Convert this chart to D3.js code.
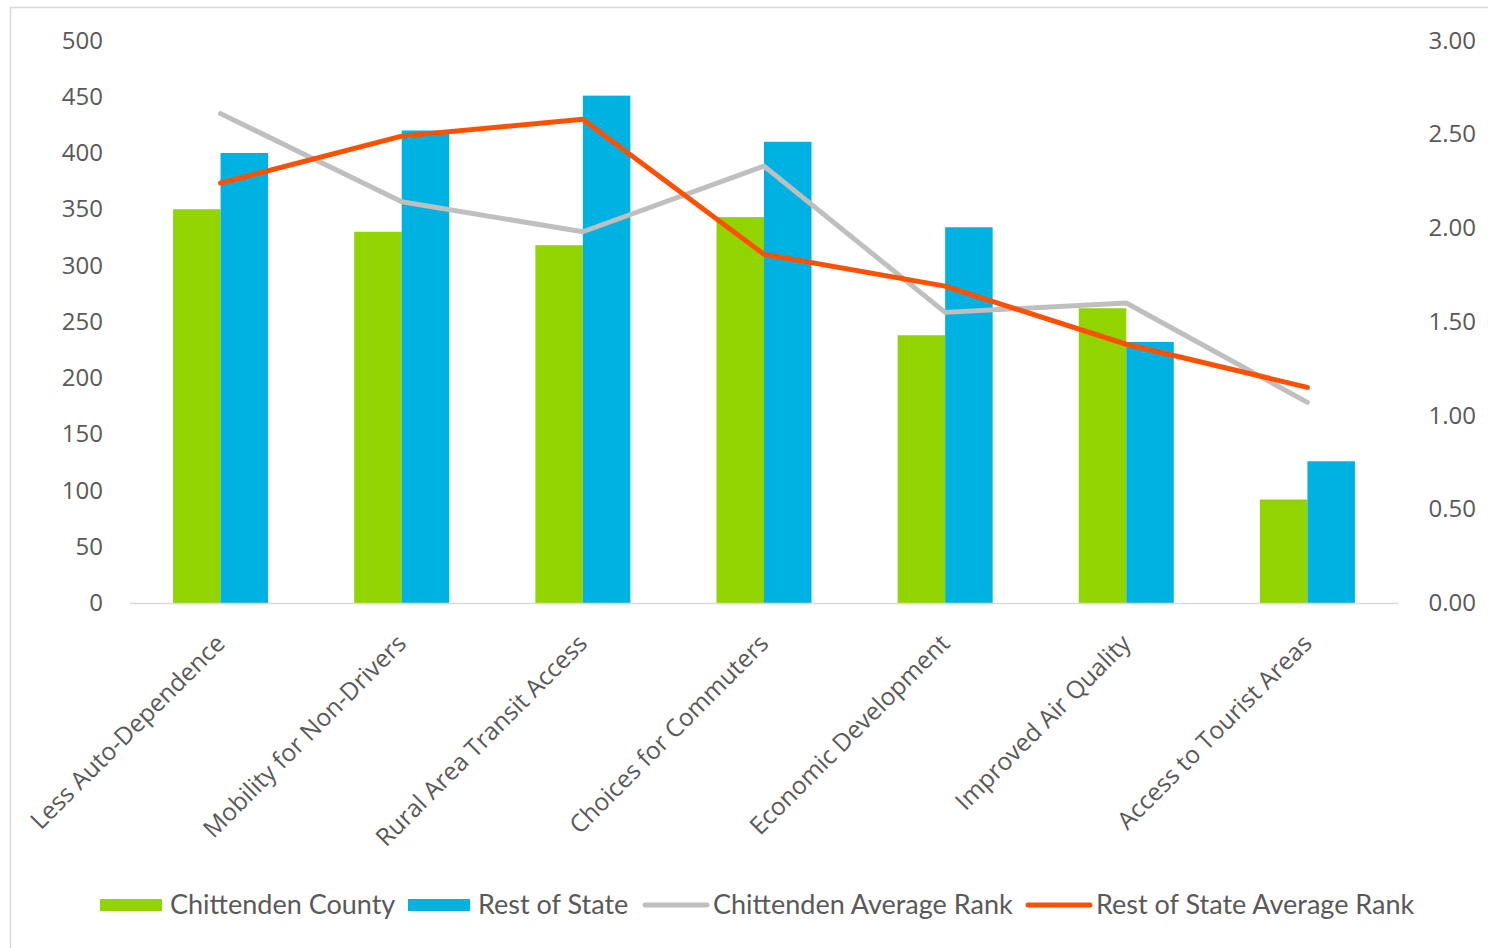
<!DOCTYPE html>
<html>
<head>
<meta charset="utf-8">
<script src="https://cdn.jsdelivr.net/npm/d3@7"></script>
<style>
  body { margin:0; background:#fff; }
  .tick text { fill:#595959; }
</style>
</head>
<body>
<div id="chartContainer"></div>
<script>
var categories = ["Less Auto-Dependence", "Mobility for Non-Drivers", "Rural Area Transit Access",
                  "Choices for Commuters", "Economic Development", "Improved Air Quality", "Access to Tourist Areas"];
var chittenden = [350, 330, 318, 343, 238, 262, 92];
var restOfState = [400, 420, 451, 410, 334, 232, 126];
var chittendenRank = [2.61, 2.14, 1.98, 2.33, 1.55, 1.60, 1.07];
var restRank = [2.24, 2.49, 2.58, 1.86, 1.69, 1.38, 1.15];
var leftTicks = [0, 50, 100, 150, 200, 250, 300, 350, 400, 450, 500];
var rightTicks = [0, 0.5, 1, 1.5, 2, 2.5, 3];
var legendNames = ["Chittenden County", "Rest of State", "Chittenden Average Rank", "Rest of State Average Rank"];

var width = 1488, height = 948;
var plot = { left:130, right:1398, top:40.5, bottom:603 }; // plot area

var svg = d3.select('#chartContainer').append('svg').attr("width", width).attr("height", height);

// chart frame
svg.append('rect').attr("x",10.5).attr("y",7.5).attr("width",1500).attr("height",960)
   .attr("fill","none").attr("stroke","#d9d9d9").attr("stroke-width",1.5);

var x = d3.scaleBand().domain(categories).range([plot.left, plot.right]);
var x1 = d3.scaleBand().domain(["c","r"]).range([0, 95]);
var y = d3.scaleLinear().domain([0,500]).range([plot.bottom, plot.top]);
var y2 = d3.scaleLinear().domain([0,3]).range([plot.bottom, plot.top]);

// bars
var groups = svg.selectAll('g.cat').data(categories).enter().append('g').attr('class','cat')
   .attr("transform", function(d) { return "translate(" + (x(d) + x.bandwidth()/2 - 47.5) + ",0)"; });

groups.append('rect').attr("x", x1("c")).attr("width", x1.bandwidth())
   .attr("y", function(d,i) { return y(chittenden[i]); })
   .attr("height", function(d,i) { return plot.bottom - y(chittenden[i]); })
   .attr("fill","#92D400");
groups.append('rect').attr("x", x1("r")).attr("width", x1.bandwidth())
   .attr("y", function(d,i) { return y(restOfState[i]); })
   .attr("height", function(d,i) { return plot.bottom - y(restOfState[i]); })
   .attr("fill","#00B2E1");

// x axis line
svg.append('line').attr("x1",plot.left).attr("x2",plot.right).attr("y1",plot.bottom+0.5).attr("y2",plot.bottom+0.5)
   .attr("stroke","#d9d9d9").attr("stroke-width",1.5);

// lines on secondary axis
var line = d3.line().x(function(d,i) { return x(categories[i]) + x.bandwidth()/2; }).y(function(d) { return y2(d); });
svg.append('path').datum(chittendenRank).attr("d",line).attr("fill","none")
   .attr("stroke","#BFBFBF").attr("stroke-width",5).attr("stroke-linecap","round").attr("stroke-linejoin","round");
svg.append('path').datum(restRank).attr("d",line).attr("fill","none")
   .attr("stroke","#FF5000").attr("stroke-width",5).attr("stroke-linecap","round").attr("stroke-linejoin","round");

// axes
var yAxis = d3.axisLeft(y).tickValues(leftTicks).tickSize(0).tickPadding(0);
var gl = svg.append('g').attr("transform","translate(103,0)").call(yAxis);
gl.select('.domain').remove();
gl.selectAll('text').attr("font-family","'Open Sans'").attr("font-size","24px");

var yAxis2 = d3.axisRight(y2).tickValues(rightTicks).tickFormat(d3.format('.2f')).tickSize(0).tickPadding(0);
var gr = svg.append('g').attr("transform","translate(1476,0)").call(yAxis2);
gr.select('.domain').remove();
gr.selectAll('text').attr("font-family","'Open Sans'").attr("font-size","24px").attr("text-anchor","end");

// category labels, rotated
svg.selectAll('text.cat').data(categories).enter().append('text').attr('class','cat')
   .attr("transform", function(d) { return "translate(" + (x(d) + x.bandwidth()/2 + 6) + "," + (plot.bottom + 42) + ") rotate(-45)"; })
   .attr("text-anchor","end").attr("fill","#595959")
   .attr("font-family","'Open Sans'").attr("font-size","24.5px")
   .text(function(d) { return d; });

// legend
var legendX = [100, 408, 643, 1026];
var legendColors = ["#92D400", "#00B2E1", "#BFBFBF", "#FF5000"];
var lg = svg.selectAll('g.leg').data(legendNames).enter().append('g').attr('class','leg')
   .attr("transform", function(d,i) { return "translate(" + legendX[i] + ",905)"; });
lg.each(function(d,i) {
    var g = d3.select(this);
    if (i < 2) {
        g.append('rect').attr("x",0).attr("y",-6).attr("width",62).attr("height",12).attr("fill",legendColors[i]);
    } else {
        g.append('line').attr("x1",2).attr("x2",64).attr("y1",0).attr("y2",0)
         .attr("stroke",legendColors[i]).attr("stroke-width",5).attr("stroke-linecap","round");
    }
    g.append('text').attr("x",70).attr("dy","0.35em").attr("fill","#595959")
     .attr("font-family","Lato").attr("font-size","27px").text(d);
});
</script>
</body>
</html>
